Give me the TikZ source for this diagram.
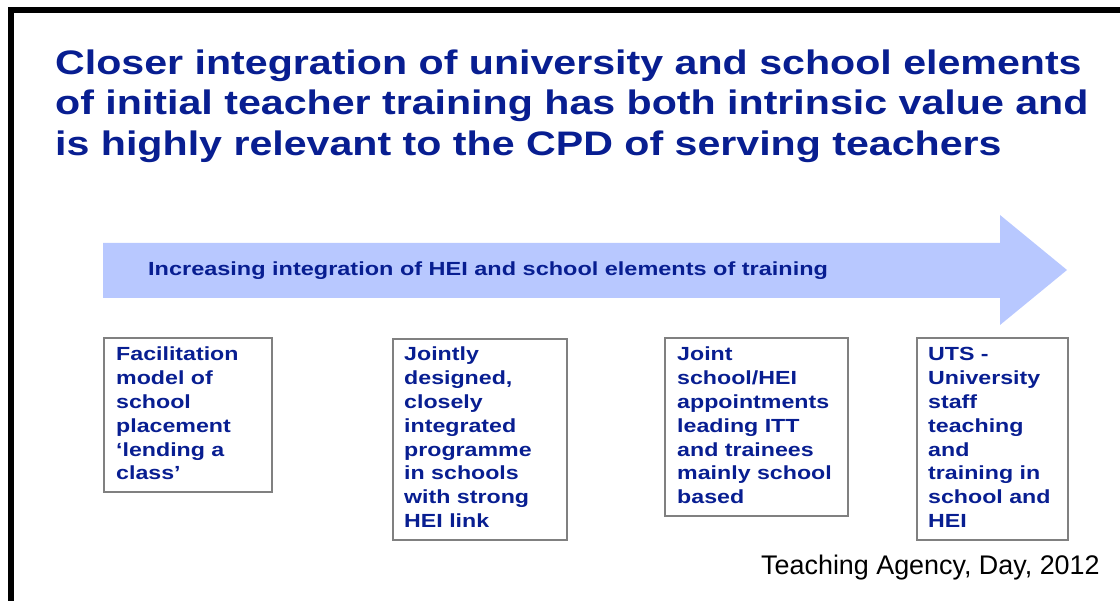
\documentclass[tikz,border=0pt]{standalone}
\usepackage{fontspec}
\setmainfont{Liberation Sans}
\usepackage{graphicx}
\usetikzlibrary{positioning}
\definecolor{titleblue}{RGB}{8,30,145}
\definecolor{arrowblue}{RGB}{184,200,255}
\definecolor{boxgray}{RGB}{128,128,128}
\newcommand{\widetext}[2]{\scalebox{#1}[1]{\begin{tabular}[t]{@{}l@{}}#2\end{tabular}}}

\begin{document}
\begin{tikzpicture}[x=1pt,y=-1pt,
  stagebox/.style={draw=boxgray, line width=1.6pt, anchor=north west, inner sep=0pt},
  stagetext/.style={anchor=base west, inner sep=0pt, text=titleblue,
    font=\fontsize{19}{23.8}\selectfont\bfseries}]
	\useasboundingbox (0,0) rectangle (1120,601);

	\draw[line width=6.4pt] (11,601) -- (11,10) -- (1120,10);

	\node[anchor=base west, inner sep=0pt, text=titleblue,
	  font=\fontsize{34}{40.5}\selectfont\bfseries] (title) at (55,74.5)
	  {\widetext{1.21}{Closer integration of university and school elements\\
	  of initial teacher training has both intrinsic value and\\
	  is highly relevant to the CPD of serving teachers}};

	\fill[arrowblue] (103,243) -- (1000,243) -- (1000,215) -- (1067,270)
	  -- (1000,325) -- (1000,298) -- (103,298) -- cycle;
	\node[stagetext] (trend) at (148,276)
	  {\widetext{1.236}{Increasing integration of HEI and school elements of training}};

	\node[stagebox, minimum width=168, minimum height=154] (box1) at (103,337) {};
	\node[stagebox, minimum width=174, minimum height=201] (box2) at (392,338) {};
	\node[stagebox, minimum width=183, minimum height=178] (box3) at (664,337) {};
	\node[stagebox, minimum width=151, minimum height=202] (box4) at (916,337) {};

	\node[stagetext] (txt1) at (116,361)
	  {\widetext{1.22}{Facilitation\\model of\\school\\placement\\`lending a\\class'}};
	\node[stagetext] (txt2) at (404,361)
	  {\widetext{1.22}{Jointly\\designed,\\closely\\integrated\\programme\\in schools\\with strong\\HEI link}};
	\node[stagetext] (txt3) at (677,361)
	  {\widetext{1.22}{Joint\\school/HEI\\appointments\\leading ITT\\and trainees\\mainly school\\based}};
	\node[stagetext] (txt4) at (928,361)
	  {\widetext{1.22}{UTS -\\University\\staff\\teaching\\and\\training in\\school and\\HEI}};

	\node[anchor=base west, inner sep=0pt, font=\fontsize{26.9}{30}\selectfont] (source) at (761,574)
	  {Teaching Agency, Day, 2012};
\end{tikzpicture}
\end{document}
